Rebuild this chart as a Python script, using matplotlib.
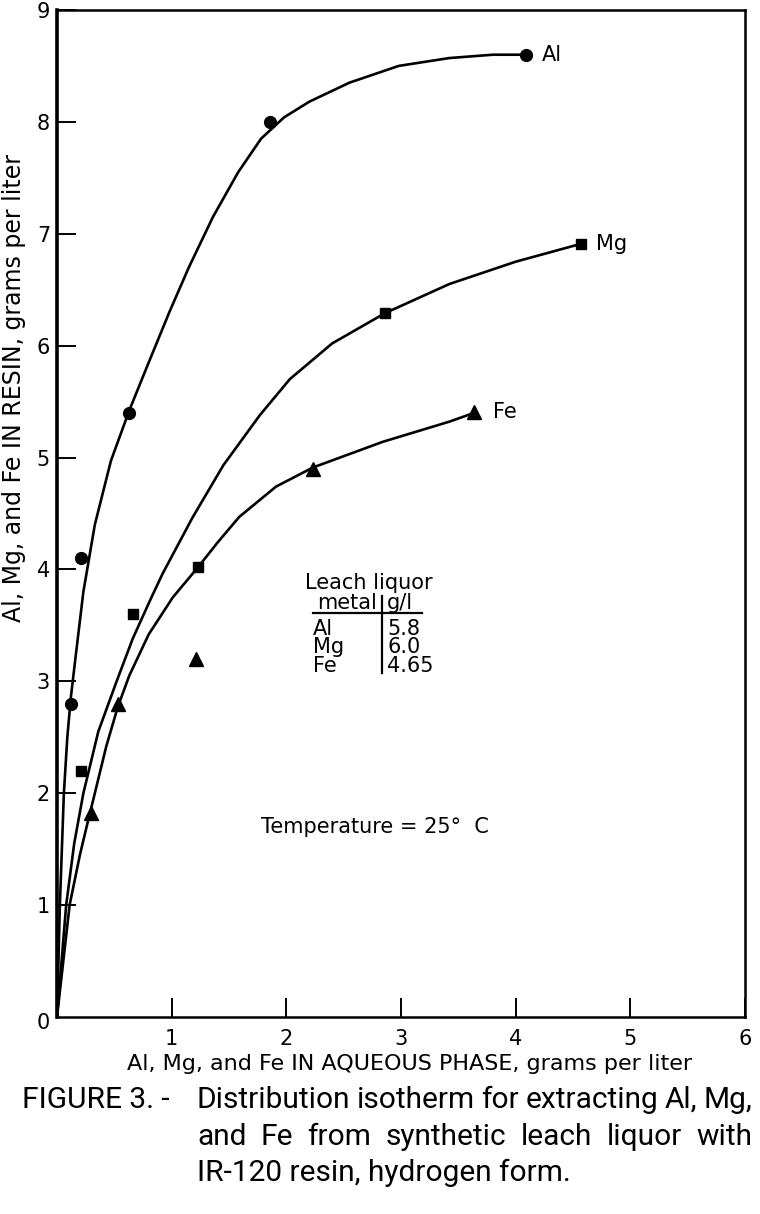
import matplotlib.pyplot as plt

# measured points (x: aqueous phase g/l, y: resin g/l)
al_x = [0.12, 0.21, 0.63, 1.86, 4.09]
al_y = [2.8, 4.1, 5.4, 8.0, 8.6]
mg_x = [0.21, 0.66, 1.23, 2.86, 4.57]
mg_y = [2.2, 3.6, 4.02, 6.29, 6.91]
fe_x = [0.30, 0.53, 1.21, 2.23, 3.64]
fe_y = [1.82, 2.8, 3.2, 4.9, 5.41]

# hand drawn isotherm curves
al_curve_x = [0, 0.025, 0.06, 0.09, 0.12, 0.16, 0.23, 0.33, 0.47, 0.63, 0.80,
              0.98, 1.15, 1.36, 1.58, 1.78, 1.98, 2.20, 2.55, 2.98, 3.42, 3.80, 4.09]
al_curve_y = [0, 1.0, 2.0, 2.5, 2.85, 3.2, 3.8, 4.4, 4.97, 5.42, 5.85,
              6.3, 6.7, 7.15, 7.55, 7.85, 8.04, 8.18, 8.35, 8.5, 8.57, 8.6, 8.6]
mg_curve_x = [0, 0.08, 0.15, 0.23, 0.36, 0.52, 0.66, 0.81, 0.92, 1.18, 1.45,
              1.77, 2.03, 2.40, 2.86, 3.42, 4.00, 4.57]
mg_curve_y = [0, 1.0, 1.55, 2.0, 2.55, 3.0, 3.38, 3.72, 3.96, 4.46, 4.93,
              5.38, 5.70, 6.02, 6.29, 6.55, 6.75, 6.91]
fe_curve_x = [0, 0.11, 0.20, 0.27, 0.33, 0.43, 0.53, 0.63, 0.80, 1.01, 1.23,
              1.40, 1.59, 1.91, 2.23, 2.84, 3.42, 3.64]
fe_curve_y = [0, 1.0, 1.45, 1.75, 2.0, 2.42, 2.77, 3.05, 3.42, 3.75, 4.02,
              4.24, 4.47, 4.74, 4.91, 5.14, 5.32, 5.40]

metals = ["Al", "Mg", "Fe"]
leach_gl = ["5.8", "6.0", "4.65"]

x_ticks = [1, 2, 3, 4, 5, 6]
y_ticks = [1, 2, 3, 4, 5, 6, 7, 8, 9]

plt.rcParams['font.family'] = ['DejaVu Sans']

fig = plt.figure(figsize=(7.6, 12.14), dpi=100)
ax = fig.add_axes([0.075, 0.1623, 0.9053, 0.8295])

lw = 1.9
ax.plot(al_curve_x, al_curve_y, color='black', lw=lw, solid_joinstyle='round')
ax.plot(mg_curve_x, mg_curve_y, color='black', lw=lw, solid_joinstyle='round')
ax.plot(fe_curve_x, fe_curve_y, color='black', lw=lw, solid_joinstyle='round')

ax.plot(al_x, al_y, 'o', color='black', ms=8.5)
ax.plot(mg_x, mg_y, 's', color='black', ms=7.5)
ax.plot(fe_x, fe_y, '^', color='black', ms=9.5)

ax.text(al_x[-1] + 0.14, al_y[-1], "Al", fontsize=15, va='center', ha='left')
ax.text(mg_x[-1] + 0.13, mg_y[-1], "Mg", fontsize=15, va='center', ha='left')
ax.text(fe_x[-1] + 0.16, fe_y[-1], "Fe", fontsize=15, va='center', ha='left')

ax.set_xlim(0, 6)
ax.set_ylim(0, 9)
ax.set_xticks(x_ticks)
ax.set_yticks(y_ticks)
ax.set_xticklabels([str(t) for t in x_ticks])
ax.set_yticklabels([str(t) for t in y_ticks])
ax.tick_params(direction='in', length=14, width=1.4, labelsize=15, color='black')
ax.tick_params(axis='x', pad=9)
ax.tick_params(axis='y', pad=5)
for s in ax.spines.values():
    s.set_linewidth(1.8)
ax.spines['left'].set_linewidth(2.6)

# single zero label in the corner
ax.text(-0.06, -0.05, "0", fontsize=15, ha='right', va='center')

ax.set_xlabel("Al, Mg, and Fe IN AQUEOUS PHASE, grams per liter", fontsize=16)
ax.xaxis.set_label_coords(0.513, -0.037)
ax.set_ylabel("Al, Mg, and Fe IN RESIN, grams per liter", fontsize=17)
ax.yaxis.set_label_coords(-0.045, 0.625)

# leach liquor table
tx, ty = 2.23, 3.88
ax.text(2.72, ty, "Leach liquor", fontsize=15, ha='center', va='center')
ax.text(2.27, 3.70, "metal", fontsize=15, ha='left', va='center')
ax.text(2.88, 3.70, "g/l", fontsize=15, ha='left', va='center')
ax.plot([2.23, 3.18], [3.61, 3.61], color='black', lw=1.6)
ax.plot([2.83, 2.83], [3.76, 3.07], color='black', lw=1.6)
for i, (m, v) in enumerate(zip(metals, leach_gl)):
    yy = 3.47 - i * 0.165
    ax.text(tx, yy, m, fontsize=15, ha='left', va='center')
    ax.text(2.88, yy, v, fontsize=15, ha='left', va='center')

ax.text(1.78, 1.70, "Temperature = 25\u00b0  C", fontsize=15, ha='left', va='center')

# caption, first two lines justified
cap_font = ['Roboto', 'DejaVu Sans']
cap_size = 21.5
fig.text(22 / 760, 1 - 1100 / 1214, "FIGURE 3. -", fontsize=cap_size,
         family=cap_font, va='center', ha='left')
cap_lines = ["Distribution isotherm for extracting Al, Mg,",
             "and Fe from synthetic leach liquor with",
             "IR-120 resin, hydrogen form."]
cap_y = [1100, 1137, 1173]
renderer = fig.canvas.get_renderer()
left_px, right_px = 197, 752
for li, line in enumerate(cap_lines):
    yf = 1 - cap_y[li] / 1214
    if li == 2:
        fig.text(left_px / 760, yf, line, fontsize=cap_size, family=cap_font,
                 va='center', ha='left')
        continue
    words = line.split()
    texts = [fig.text(0, yf, w, fontsize=cap_size, family=cap_font,
                      va='center', ha='left') for w in words]
    widths = [t.get_window_extent(renderer).width for t in texts]
    gap = max((right_px - left_px - sum(widths)) / (len(words) - 1), 5)
    x = left_px
    for t, w in zip(texts, widths):
        t.set_x(x / 760)
        x += w + gap

fig.savefig("out.png", dpi=100)
